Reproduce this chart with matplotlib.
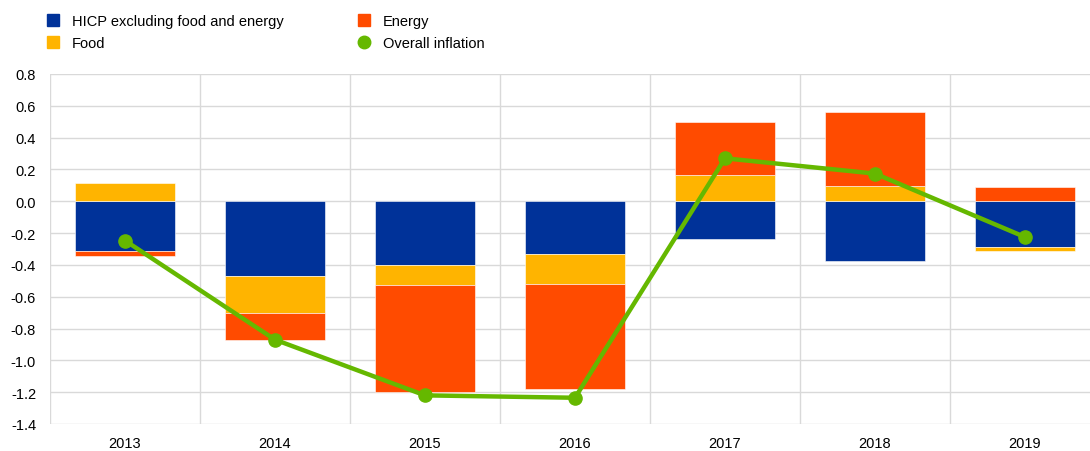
import numpy as np
import matplotlib.pyplot as plt
from matplotlib.patches import Patch
from matplotlib.lines import Line2D

years = ['2013', '2014', '2015', '2016', '2017', '2018', '2019']
core = [-0.31, -0.47, -0.40, -0.33, -0.235, -0.375, -0.29]
food = [0.113, -0.23, -0.124, -0.19, 0.165, 0.094, -0.02]
energy = [-0.035, -0.17, -0.676, -0.66, 0.332, 0.466, 0.092]
overall = [-0.247, -0.87, -1.22, -1.235, 0.27, 0.174, -0.225]

names = ['HICP excluding food and energy', 'Food', 'Energy']
colors = ['#003299', '#FFB400', '#FF4B00']
green = '#65B800'

plt.rcParams['font.family'] = ['Liberation Sans', 'DejaVu Sans']

fig = plt.figure(figsize=(10.9, 4.52), dpi=100)
ax = fig.add_axes([50 / 1090, 27 / 452, 1040 / 1090, 350 / 452])

x = np.arange(len(years))
pos = np.zeros(len(years))
neg = np.zeros(len(years))
for vals, c in zip([core, food, energy], colors):
    v = np.array(vals)
    base = np.where(v >= 0, pos, neg)
    ax.bar(x, v, bottom=base, width=0.667, color=c, edgecolor='white',
           linewidth=0.4, zorder=2)
    pos = pos + np.where(v >= 0, v, 0)
    neg = neg + np.where(v < 0, v, 0)

ax.plot(x, overall, color=green, lw=3.2, marker='o', markersize=9.5, zorder=3)

ticks = np.round(np.arange(-1.4, 0.81, 0.2), 1)
ax.set_ylim(-1.4, 0.8)
ax.set_yticks(ticks)
ax.set_yticklabels([f'{t + 0.0:.1f}' for t in ticks])
ax.set_xlim(-0.5, 6.5 - 10 / 150)
ax.set_xticks(x)
ax.set_xticklabels(years)
ax.grid(axis='y', color='#d9d9d9', lw=1, zorder=0)
for b in np.arange(0.5, 6, 1):
    ax.axvline(b, color='#d9d9d9', lw=1, zorder=0)
ax.axvline(-0.5, color='#d9d9d9', lw=1, zorder=0)
for s in ax.spines.values():
    s.set_visible(False)
ax.tick_params(length=0, labelsize=10.5, colors='black')
ax.tick_params(axis='y', pad=10)
ax.tick_params(axis='x', pad=9)

handles = [Patch(color=colors[0], label=names[0]),
           Patch(color=colors[1], label=names[1]),
           Patch(color=colors[2], label=names[2]),
           Line2D([], [], color=green, marker='o', ls='none', markersize=9,
                  label='Overall inflation')]
fig.legend(handles=handles, loc='upper left', bbox_to_anchor=(0.031, 0.996),
           ncol=2, frameon=False, fontsize=10.5, handlelength=0.85,
           handleheight=0.85, handletextpad=0.85, columnspacing=5.1,
           labelspacing=0.55)

fig.savefig('out.png', dpi=100)
